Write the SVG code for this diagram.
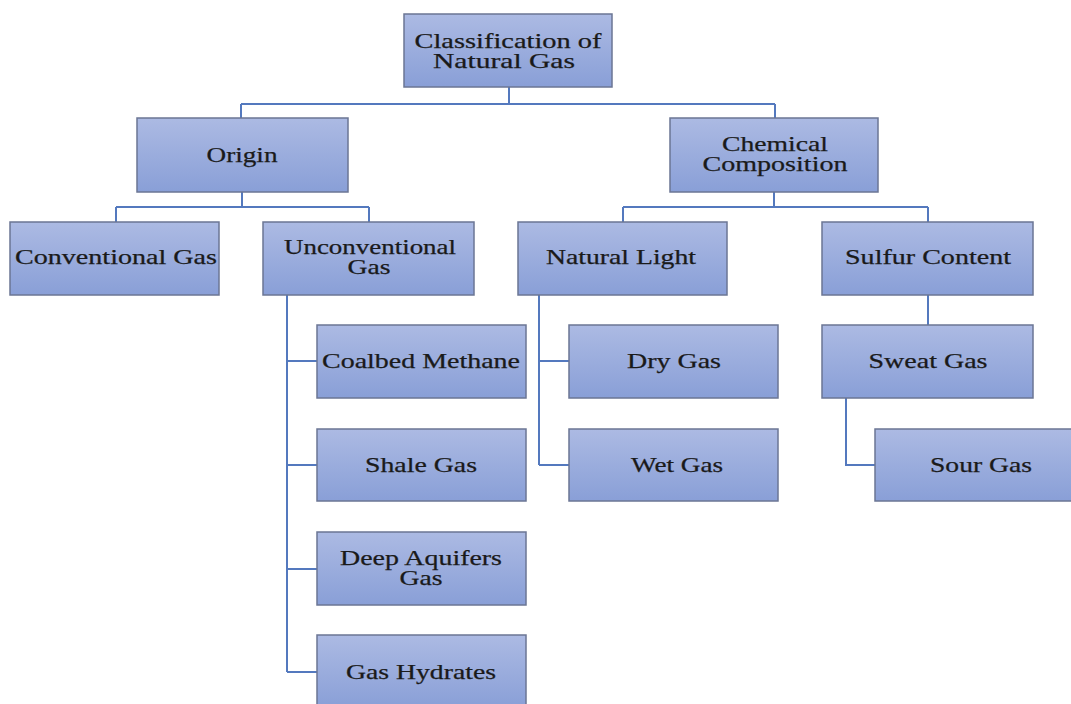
<svg xmlns="http://www.w3.org/2000/svg" width="1071" height="704" viewBox="0 0 1071 704">
<defs>
<linearGradient id="g" x1="0" y1="0" x2="0" y2="1">
<stop offset="0" stop-color="#acbae3"/>
<stop offset="1" stop-color="#899fd7"/>
</linearGradient>
<style>
.box{fill:url(#g);stroke:#6b7694;stroke-width:1.5}
.t{font-family:"Liberation Serif","Times New Roman",serif;font-size:21px;fill:#1a1a1a;stroke:#1a1a1a;stroke-width:0.25;text-anchor:middle}
.c{fill:none;stroke:#5479be;stroke-width:2}
</style>
</defs>
<rect width="1071" height="704" fill="#ffffff"/>
<g id="connectors">
<path class="c" d="M509,87 V104 M241,104 H775 M241,104 V118 M775,104 V118"/>
<path class="c" d="M242,192 V207 M116,207 H369 M116,207 V222 M369,207 V222"/>
<path class="c" d="M774,192 V207 M623,207 H928 M623,207 V222 M928,207 V222"/>
<path class="c" d="M287,295 V672 M287,361 H317 M287,465 H317 M287,569 H317 M287,672 H317"/>
<path class="c" d="M539,295 V465 M539,361 H569 M539,465 H569"/>
<path class="c" d="M928,295 V325"/>
<path class="c" d="M846,398 V465 H875"/>
</g>
<g id="root">
<rect class="box" x="404" y="14" width="208" height="73"/>
<text class="t" x="508" y="48" textLength="187" lengthAdjust="spacingAndGlyphs">Classification of</text>
<text class="t" x="504" y="68" textLength="142" lengthAdjust="spacingAndGlyphs">Natural Gas</text>
</g>
<g id="origin">
<rect class="box" x="137" y="118" width="211" height="74"/>
<text class="t" x="242" y="162" textLength="71" lengthAdjust="spacingAndGlyphs">Origin</text>
</g>
<g id="chemical">
<rect class="box" x="670" y="118" width="208" height="74"/>
<text class="t" x="775" y="151" textLength="106" lengthAdjust="spacingAndGlyphs">Chemical</text>
<text class="t" x="775" y="171" textLength="145" lengthAdjust="spacingAndGlyphs">Composition</text>
</g>
<g id="conventional">
<rect class="box" x="10" y="222" width="209" height="73"/>
<text class="t" x="116" y="264" textLength="202" lengthAdjust="spacingAndGlyphs">Conventional Gas</text>
</g>
<g id="unconventional">
<rect class="box" x="263" y="222" width="211" height="73"/>
<text class="t" x="370" y="254" textLength="172" lengthAdjust="spacingAndGlyphs">Unconventional</text>
<text class="t" x="369" y="274" textLength="43" lengthAdjust="spacingAndGlyphs">Gas</text>
</g>
<g id="natural-light">
<rect class="box" x="518" y="222" width="209" height="73"/>
<text class="t" x="621" y="264" textLength="150" lengthAdjust="spacingAndGlyphs">Natural Light</text>
</g>
<g id="sulfur">
<rect class="box" x="822" y="222" width="211" height="73"/>
<text class="t" x="928" y="264" textLength="166" lengthAdjust="spacingAndGlyphs">Sulfur Content</text>
</g>
<g id="coalbed">
<rect class="box" x="317" y="325" width="209" height="73"/>
<text class="t" x="421" y="368" textLength="198" lengthAdjust="spacingAndGlyphs">Coalbed Methane</text>
</g>
<g id="shale">
<rect class="box" x="317" y="429" width="209" height="72"/>
<text class="t" x="421" y="472" textLength="112" lengthAdjust="spacingAndGlyphs">Shale Gas</text>
</g>
<g id="deep">
<rect class="box" x="317" y="532" width="209" height="73"/>
<text class="t" x="421" y="565" textLength="162" lengthAdjust="spacingAndGlyphs">Deep Aquifers</text>
<text class="t" x="421" y="585" textLength="43" lengthAdjust="spacingAndGlyphs">Gas</text>
</g>
<g id="hydrates">
<rect class="box" x="317" y="635" width="209" height="73"/>
<text class="t" x="421" y="679" textLength="150" lengthAdjust="spacingAndGlyphs">Gas Hydrates</text>
</g>
<g id="dry">
<rect class="box" x="569" y="325" width="209" height="73"/>
<text class="t" x="674" y="368" textLength="94" lengthAdjust="spacingAndGlyphs">Dry Gas</text>
</g>
<g id="wet">
<rect class="box" x="569" y="429" width="209" height="72"/>
<text class="t" x="677" y="472" textLength="92" lengthAdjust="spacingAndGlyphs">Wet Gas</text>
</g>
<g id="sweat">
<rect class="box" x="822" y="325" width="211" height="73"/>
<text class="t" x="928" y="368" textLength="119" lengthAdjust="spacingAndGlyphs">Sweat Gas</text>
</g>
<g id="sour">
<rect class="box" x="875" y="429" width="209" height="72"/>
<text class="t" x="981" y="472" textLength="102" lengthAdjust="spacingAndGlyphs">Sour Gas</text>
</g>
</svg>
